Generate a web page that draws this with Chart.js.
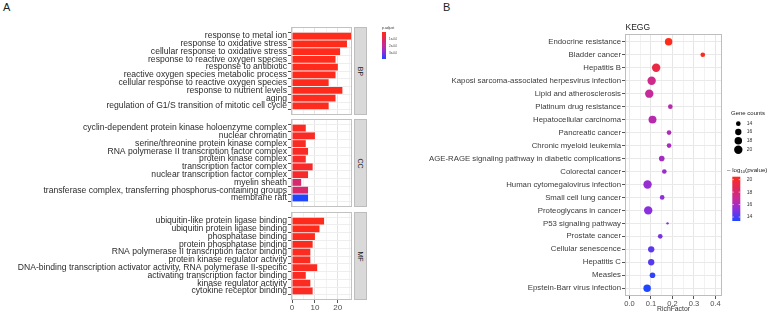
<!DOCTYPE html>
<html>
<head>
<meta charset="utf-8">
<script src="https://cdn.jsdelivr.net/npm/chart.js@4.4.1/dist/chart.umd.min.js"></script>
<style>
  html, body { margin: 0; padding: 0; background: #fff; width: 784px; height: 317px; overflow: hidden;
    font-family: "Liberation Sans", Arial, sans-serif; }
  canvas { position: absolute; }
  .tag { position: absolute; font-size: 11px; color: #222; line-height: 12px; }
  .strip { position: absolute; background: #d9d9d9; border: 1px solid #bdbdbd; box-sizing: border-box;
    color: #1a1a1a; font-size: 7px; display: flex; align-items: center; justify-content: center; }
  .strip span { display: block; transform: rotate(90deg); }
</style>
</head>
<body>
<div class="tag" style="left:3px;top:1px">A</div>
<div class="tag" style="left:443px;top:1px">B</div>

<canvas id="bp" width="352" height="88" style="left:0;top:27px"></canvas>
<canvas id="cc" width="352" height="88" style="left:0;top:119px"></canvas>
<canvas id="mf" width="352" height="103" style="left:0;top:212px"></canvas>
<div class="strip" style="left:354px;top:27px;width:13px;height:88px"><span>BP</span></div>
<div class="strip" style="left:354px;top:119px;width:13px;height:88px"><span>CC</span></div>
<div class="strip" style="left:354px;top:212px;width:13px;height:88px"><span>MF</span></div>
<canvas id="legA" width="40" height="45" style="left:375px;top:22px"></canvas>

<canvas id="kegg" width="364" height="317" style="left:420px;top:0"></canvas>

<script>
// ---- panel A: GO terms ----
const bpTerms = ['response to metal ion', 'response to oxidative stress', 'cellular response to oxidative stress',
  'response to reactive oxygen species', 'response to antibiotic', 'reactive oxygen species metabolic process',
  'cellular response to reactive oxygen species', 'response to nutrient levels', 'aging',
  'regulation of G1/S transition of mitotic cell cycle'];
const bpCounts = [26, 24, 21, 19, 20, 19, 16, 22, 19, 16];
const bpPadj = [1e-6, 1e-6, 2e-6, 2e-6, 3e-6, 3e-6, 4e-6, 4e-6, 5e-6, 6e-6];

const ccTerms = ['cyclin-dependent protein kinase holoenzyme complex', 'nuclear chromatin',
  'serine/threonine protein kinase complex', 'RNA polymerase II transcription factor complex',
  'protein kinase complex', 'transcription factor complex', 'nuclear transcription factor complex',
  'myelin sheath', 'transferase complex, transferring phosphorus-containing groups', 'membrane raft'];
const ccCounts = [6, 10, 6, 7, 6, 9, 7, 4, 7, 7];
const ccPadj = [1.2e-5, 1.5e-5, 1.6e-5, 1.8e-5, 2.0e-5, 2.2e-5, 2.4e-5, 1.25e-4, 1.2e-4, 3.77e-4];

const mfTerms = ['ubiquitin-like protein ligase binding', 'ubiquitin protein ligase binding', 'phosphatase binding',
  'protein phosphatase binding', 'RNA polymerase II transcription factor binding', 'protein kinase regulator activity',
  'DNA-binding transcription activator activity, RNA polymerase II-specific', 'activating transcription factor binding',
  'kinase regulator activity', 'cytokine receptor binding'];
const mfCounts = [14, 12, 10, 9, 8, 8, 11, 6, 8, 9];
const mfPadj = [3e-6, 4e-6, 5e-6, 6e-6, 8e-6, 9e-6, 1e-5, 1.1e-5, 1.2e-5, 1.3e-5];

const padjTicks = [1e-4, 2e-4, 3e-4];
const padjTickLabels = ['1e-04', '2e-04', '3e-04'];

// ---- panel B: KEGG ----
const keggTerms = ['Endocrine resistance', 'Bladder cancer', 'Hepatitis B', 'Kaposi sarcoma-associated herpesvirus infection',
  'Lipid and atherosclerosis', 'Platinum drug resistance', 'Hepatocellular carcinoma', 'Pancreatic cancer',
  'Chronic myeloid leukemia', 'AGE-RAGE signaling pathway in diabetic complications', 'Colorectal cancer',
  'Human cytomegalovirus infection', 'Small cell lung cancer', 'Proteoglycans in cancer', 'P53 signaling pathway',
  'Prostate cancer', 'Cellular senescence', 'Hepatitis C', 'Measles', 'Epstein-Barr virus infection'];
const keggRich = [0.182, 0.341, 0.124, 0.103, 0.092, 0.19, 0.107, 0.184, 0.184, 0.15,
  0.162, 0.084, 0.152, 0.087, 0.177, 0.143, 0.101, 0.101, 0.107, 0.082];
const keggCounts = [18, 14, 20, 20, 20, 14, 19, 14, 14, 15, 14, 20, 14, 20, 13, 14, 16, 16, 15, 18];
const keggLogP = [20.48, 20.3, 19.3, 17.3, 16.9, 16.4, 16.4, 16.2, 16.0, 15.85,
  15.6, 15.5, 15.3, 15.2, 14.9, 14.8, 14.4, 14.3, 13.65, 13.36];
const countBreaks = [14, 16, 18, 20];
const logPBreaks = [20, 18, 16, 14];

// colour ramp, blue (low) -> red (high)
const rampStops = [[31, 69, 255], [138, 47, 224], [200, 42, 152], [224, 40, 90], [255, 43, 27]];
function ramp(t) {
  t = Math.max(0, Math.min(1, t));
  const s = t * (rampStops.length - 1);
  const i = Math.min(Math.floor(s), rampStops.length - 2);
  const f = s - i;
  const a = rampStops[i], b = rampStops[i + 1];
  return 'rgb(' + a.map((v, k) => Math.round(v + (b[k] - v) * f)).join(',') + ')';
}

const allPadj = bpPadj.concat(ccPadj, mfPadj);
const padjMin = Math.min(...allPadj), padjMax = Math.max(...allPadj);
const padjColour = p => ramp(1 - (p - padjMin) / (padjMax - padjMin));

const logMin = Math.min(...keggLogP), logMax = Math.max(...keggLogP);
const logColour = v => ramp((v - logMin) / (logMax - logMin));

const cMin = Math.min(...keggCounts), cMax = Math.max(...keggCounts);
const bubbleR = c => 1.2 + 3.0 * Math.sqrt(Math.max(0, c - cMin) / (cMax - cMin));

// no label overhang padding, keep chart areas exactly where we put them
const noPad = s => { s.paddingTop = 0; s.paddingBottom = 0; s.paddingLeft = 0; s.paddingRight = 0; };

const panelBox = {
  id: 'panelBox',
  afterDatasetsDraw(chart, args, opts) {
    const { ctx, chartArea: a } = chart;
    ctx.save();
    ctx.strokeStyle = opts.color || '#bdbdbd';
    ctx.lineWidth = 1;
    ctx.strokeRect(Math.round(a.left) + 0.5, Math.round(a.top) + 0.5,
      Math.round(a.right - a.left) - 1, Math.round(a.bottom - a.top) - 1);
    ctx.restore();
  }
};

function facet(id, terms, counts, padj, showX) {
  return new Chart(document.getElementById(id), {
    type: 'bar',
    data: {
      datasets: [{
        data: counts.map((v, i) => ({ x: v, y: i })),
        backgroundColor: padj.map(padjColour),
        borderWidth: 0,
        barPercentage: 0.88,
        categoryPercentage: 1
      }]
    },
    options: {
      indexAxis: 'y',
      responsive: false,
      animation: false,
      devicePixelRatio: 1,
      layout: { padding: 0 },
      events: [],
      plugins: { legend: { display: false }, tooltip: { enabled: false }, panelBox: { color: '#c2c2c2' } },
      scales: {
        x: {
          type: 'linear', min: -0.45, max: 26.2,
          afterBuildTicks: s => { s.ticks = [0, 5, 10, 15, 20, 25].map(v => ({ value: v })); },
          afterFit: s => { s.height = showX ? 15 : 0; noPad(s); },
          border: { display: false },
          grid: {
            color: c => (c.tick && c.tick.value % 10 === 0) ? '#e4e4e4' : '#f2f2f2',
            drawTicks: showX, tickLength: 3,
            tickColor: c => (c.tick && c.tick.value % 10 === 0) ? '#555' : 'rgba(0,0,0,0)'
          },
          ticks: {
            display: showX, padding: 0, color: '#4d4d4d', font: { size: 8 }, autoSkip: false, maxRotation: 0,
            callback: v => (v % 10 === 0 ? String(v) : '')
          }
        },
        y: {
          type: 'linear', reverse: true, min: -0.6, max: terms.length - 0.4,
          afterBuildTicks: s => { s.ticks = terms.map((t, i) => ({ value: i })); },
          afterFit: s => { s.width = 291; noPad(s); },
          border: { display: false },
          grid: { color: '#eeeeee', tickLength: 3, tickColor: '#555' },
          ticks: {
            padding: 1, color: '#2b2b2b', font: { size: 8.6 }, autoSkip: false,
            callback: v => terms[v]
          }
        }
      }
    },
    plugins: [panelBox]
  });
}

facet('bp', bpTerms, bpCounts, bpPadj, false);
facet('cc', ccTerms, ccCounts, ccPadj, false);
facet('mf', mfTerms, mfCounts, mfPadj, true);

// p.adjust colour bar
(function () {
  const ctx = document.getElementById('legA').getContext('2d');
  const ox = 375, oy = 22;
  const x0 = 382 - ox, y0 = 32 - oy, w = 4, h = 27;
  ctx.fillStyle = '#333';
  ctx.font = '3.5px "Liberation Sans", Arial, sans-serif';
  ctx.textBaseline = 'middle';
  ctx.fillText('p.adjust', x0, 28 - oy);
  const g = ctx.createLinearGradient(0, y0, 0, y0 + h);
  for (let i = 0; i <= 10; i++) g.addColorStop(i / 10, ramp(1 - i / 10));
  ctx.fillStyle = g;
  ctx.fillRect(x0, y0, w, h);
  ctx.fillStyle = '#444';
  ctx.font = '3px "Liberation Sans", Arial, sans-serif';
  padjTicks.forEach((p, i) => {
    const y = y0 + (p - padjMin) / (padjMax - padjMin) * h;
    ctx.fillText(padjTickLabels[i], x0 + w + 3, y);
  });
})();

// KEGG legends + title
const keggDeco = {
  id: 'keggDeco',
  afterDraw(chart) {
    const { ctx, chartArea: a } = chart;
    const ox = 420;
    ctx.save();
    ctx.textBaseline = 'middle';
    ctx.fillStyle = '#222';
    ctx.font = '8.5px "Liberation Sans", Arial, sans-serif';
    ctx.fillText('KEGG', a.left + 0.5, 27.7);

    // size legend
    ctx.font = '6px "Liberation Sans", Arial, sans-serif';
    ctx.fillStyle = '#222';
    ctx.fillText('Gene counts', 731 - ox, 113.7);
    const ys = [123.7, 132, 140.7, 149.7];
    ctx.font = '5px "Liberation Sans", Arial, sans-serif';
    countBreaks.forEach((c, i) => {
      ctx.fillStyle = '#000';
      ctx.beginPath();
      ctx.arc(738.3 - ox, ys[i], bubbleR(c), 0, Math.PI * 2);
      ctx.fill();
      ctx.fillStyle = '#333';
      ctx.fillText(String(c), 746.7 - ox, ys[i]);
    });

    // colour legend
    let x = 727 - ox;
    ctx.fillStyle = '#222';
    ctx.font = '6.2px "Liberation Sans", Arial, sans-serif';
    ctx.fillText('\u2013 log', x, 170);
    x += ctx.measureText('\u2013 log').width;
    ctx.font = '4.2px "Liberation Sans", Arial, sans-serif';
    ctx.fillText('10', x, 172);
    x += ctx.measureText('10').width;
    ctx.font = '6.2px "Liberation Sans", Arial, sans-serif';
    ctx.fillText('(pvalue)', x, 170);

    const bx = 732.3 - ox, by = 176.7, bw = 8, bh = 44.3;
    const g = ctx.createLinearGradient(0, by, 0, by + bh);
    for (let i = 0; i <= 10; i++) g.addColorStop(i / 10, ramp(1 - i / 10));
    ctx.fillStyle = g;
    ctx.fillRect(bx, by, bw, bh);
    ctx.font = '5px "Liberation Sans", Arial, sans-serif';
    logPBreaks.forEach(v => {
      const y = by + bh - (v - logMin) / (logMax - logMin) * bh;
      ctx.strokeStyle = '#fff';
      ctx.lineWidth = 0.6;
      ctx.beginPath();
      ctx.moveTo(bx, y); ctx.lineTo(bx + 1.6, y);
      ctx.moveTo(bx + bw - 1.6, y); ctx.lineTo(bx + bw, y);
      ctx.stroke();
      ctx.fillStyle = '#333';
      ctx.fillText(String(v), 746.7 - ox, y);
    });
    ctx.restore();
  }
};

const richTicks = [0, 0.05, 0.1, 0.15, 0.2, 0.25, 0.3, 0.35, 0.4];
const isMajor = v => Math.round(v * 100) % 10 === 0;

new Chart(document.getElementById('kegg'), {
  type: 'bubble',
  data: {
    datasets: [{
      data: keggRich.map((r, i) => ({ x: r, y: i, r: bubbleR(keggCounts[i]) })),
      backgroundColor: keggLogP.map(logColour),
      borderWidth: 0
    }]
  },
  options: {
    responsive: false,
    animation: false,
    devicePixelRatio: 1,
    events: [],
    layout: { padding: { top: 34, right: 62, bottom: 0, left: 0 } },
    plugins: { legend: { display: false }, tooltip: { enabled: false }, panelBox: { color: '#bdbdbd' } },
    scales: {
      x: {
        type: 'linear', min: -0.021, max: 0.4305,
        afterBuildTicks: s => { s.ticks = richTicks.map(v => ({ value: v })); },
        afterFit: s => { s.height = 21; noPad(s); },
        border: { display: false },
        grid: {
          color: c => (c.tick && isMajor(c.tick.value)) ? '#e6e6e6' : '#f2f2f2',
          tickLength: 3,
          tickColor: c => (c.tick && isMajor(c.tick.value)) ? '#555' : 'rgba(0,0,0,0)'
        },
        ticks: {
          padding: 0, color: '#4d4d4d', font: { size: 7.5 }, autoSkip: false, maxRotation: 0,
          callback: v => (isMajor(v) ? v.toFixed(1) : '')
        },
        title: { display: true, text: 'RichFactor', color: '#333', font: { size: 6.8 }, padding: { top: 0, bottom: 4 } }
      },
      y: {
        type: 'linear', reverse: true, min: -0.6, max: keggTerms.length - 0.4,
        afterBuildTicks: s => { s.ticks = keggTerms.map((t, i) => ({ value: i })); },
        afterFit: s => { s.width = 205; noPad(s); },
        border: { display: false },
        grid: { color: '#e9e9e9', tickLength: 3, tickColor: '#555' },
        ticks: { padding: 1, color: '#3a3a3a', font: { size: 7.8 }, autoSkip: false, callback: v => keggTerms[v] }
      }
    }
  },
  plugins: [panelBox, keggDeco]
});
</script>
</body>
</html>
